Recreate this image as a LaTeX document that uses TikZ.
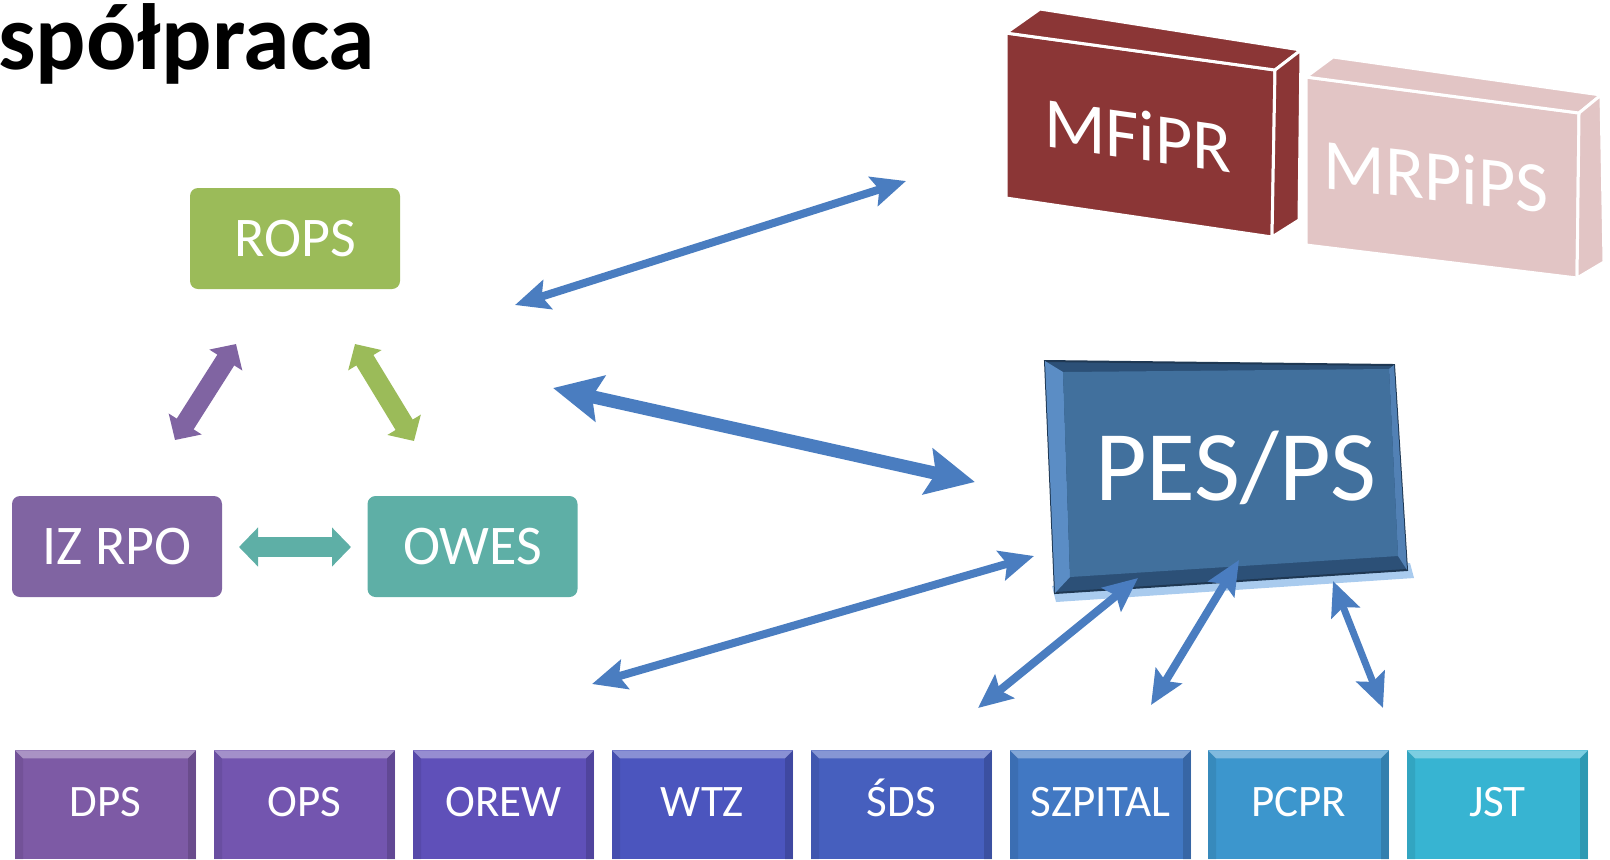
\documentclass[tikz,border=0pt]{standalone}
\usepackage{fontspec}
\setmainfont{Carlito}
\usetikzlibrary{arrows.meta}

\definecolor{ropsgreen}{HTML}{9BBB59}
\definecolor{izpurple}{HTML}{8064A2}
\definecolor{owesteal}{HTML}{5EAFA6}
\definecolor{linkblue}{HTML}{4A7DC0}
\definecolor{mfiprred}{HTML}{8B3636}
\definecolor{mrpipspink}{HTML}{E2C5C5}
\definecolor{pesface}{HTML}{41709D}
\definecolor{pesdark}{HTML}{2C5077}
\definecolor{peslight}{HTML}{5B8DC5}
\definecolor{pesglow}{HTML}{A9CBEE}
\definecolor{cdps}{HTML}{7D5AA5}
\definecolor{cops}{HTML}{7355AF}
\definecolor{corew}{HTML}{5F50B9}
\definecolor{cwtz}{HTML}{4B55BE}
\definecolor{csds}{HTML}{465FBE}
\definecolor{cszp}{HTML}{4178C3}
\definecolor{cpcpr}{HTML}{3C96CD}
\definecolor{cjst}{HTML}{37B4D2}

\begin{document}
\begin{tikzpicture}[x=0.5pt, y=-0.5pt,
    main/.style = {fill=#1, rounded corners=4pt, minimum width=105pt, minimum height=50.5pt, inner sep=0pt, text=white, font=\fontsize{28}{30}\selectfont},
    unit/.style = {fill=#1, minimum width=90.5pt, minimum height=54.5pt, inner sep=0pt, anchor=north, text=white, text height=14pt, text depth=2.5pt, font=\fontsize{22.5}{24}\selectfont,
        path picture={
            \fill[white, opacity=0.35] (path picture bounding box.north west) -- (path picture bounding box.north east) -- ([xshift=-4pt, yshift=-4pt]path picture bounding box.north east) -- ([xshift=4pt, yshift=-4pt]path picture bounding box.north west) -- cycle;
            \fill[black, opacity=0.15] (path picture bounding box.north east) -- ([xshift=-4pt, yshift=-4pt]path picture bounding box.north east) -- ([xshift=-4pt]path picture bounding box.south east) -- (path picture bounding box.south east) -- cycle;
            \fill[black, opacity=0.08] (path picture bounding box.north west) -- ([xshift=4pt, yshift=-4pt]path picture bounding box.north west) -- ([xshift=4pt]path picture bounding box.south west) -- (path picture bounding box.south west) -- cycle;}},
    fat/.style = {draw=#1, line width=10pt, {Triangle[width=19pt, length=9.5pt]}-{Triangle[width=19pt, length=9.5pt]}},
    link/.style = {draw=linkblue, line width=4pt, {Stealth[length=17pt, width=15pt, inset=3pt]}-{Stealth[length=17pt, width=15pt, inset=3pt]}},
    block/.style = {fill=#1, draw=white, line width=1.5pt, line join=round},
    blocktext/.style = {text=white, inner sep=0pt, font=\fontsize{36}{38}\selectfont}]

    \useasboundingbox (0,0) rectangle (1610,859);

    % Title
    \node[anchor=base west, inner sep=0pt, font=\bfseries\fontsize{47}{50}\selectfont] (title) at (-2,69) {spółpraca};

    % Nodes
    \node[main=ropsgreen] (rops) at (295,238.5) {ROPS};
    \node[main=izpurple] (izrpo) at (117,546.5) {IZ RPO};
    \node[main=owesteal] (owes) at (472.5,546.5) {OWES};

    % Ministries
    \filldraw[block=mfiprred] (1006,33) -- (1275,70) -- (1272,237) -- (1006,198) -- cycle;
    \filldraw[block=mfiprred] (1006,33) -- (1040,9) -- (1301,50) -- (1275,70) -- cycle;
    \filldraw[block=mfiprred] (1275,70) -- (1301,50) -- (1299,220) -- (1272,237) -- cycle;
    \node[blocktext, yslant=-0.14] (mfipr) at (1138,135) {MFiPR};

    \filldraw[block=mrpipspink] (1306,77) -- (1579,113) -- (1577,278) -- (1306,245) -- cycle;
    \filldraw[block=mrpipspink] (1306,77) -- (1333,57) -- (1601,95) -- (1579,113) -- cycle;
    \filldraw[block=mrpipspink] (1579,113) -- (1601,95) -- (1604,262) -- (1577,278) -- cycle;
    \node[blocktext, yslant=-0.11] (mrpips) at (1436,176) {MRPiPS};

    % PES/PS
    \fill[pesglow] (1052,586) -- (1410,563) -- (1414,578) -- (1056,602) -- cycle;
    \filldraw[draw=pesdark!70!black, fill=pesdark, line width=1pt] (1045,361) -- (1394,365) -- (1407,570) -- (1055,593) -- cycle;
    \fill[peslight] (1045,361) -- (1063,372) -- (1070,577) -- (1055,593) -- cycle;
    \fill[peslight!80!pesdark] (1394,365) -- (1389,369) -- (1398,556) -- (1407,570) -- cycle;
    \fill[pesface] (1063,372) -- (1389,369) -- (1398,556) -- (1070,577) -- cycle;
    \node[text=white, inner sep=0pt, font=\fontsize{50}{52}\selectfont] (pes) at (1236,468) {PES/PS};

    % Units
    \node[unit=cdps] (dps) at (105.5,750) {DPS};
    \node[unit=cops] (ops) at (304.5,750) {OPS};
    \node[unit=corew] (orew) at (503.5,750) {OREW};
    \node[unit=cwtz] (wtz) at (702.5,750) {WTZ};
    \node[unit=csds] (sds) at (901.5,750) {ŚDS};
    \node[unit=cszp] (szpital) at (1100.5,750) {SZPITAL};
    \node[unit=cpcpr] (pcpr) at (1298.5,750) {PCPR};
    \node[unit=cjst] (jst) at (1497.5,750) {JST};

    % Arrow ends
    \coordinate (r1) at (236,344);
    \coordinate (i1) at (175,440);
    \coordinate (r2) at (355,344);
    \coordinate (o1) at (414,441);
    \coordinate (i2) at (239,547);
    \coordinate (o2) at (351,547);
    \coordinate (m1) at (515,305);
    \coordinate (m2) at (906,181);
    \coordinate (p1) at (553,388);
    \coordinate (p2) at (975,482);
    \coordinate (u1) at (592,684);
    \coordinate (u2) at (1034,556);
    \coordinate (s1) at (978,708);
    \coordinate (s2) at (1138,578);
    \coordinate (z1) at (1151,705);
    \coordinate (z2) at (1239,560);
    \coordinate (c1) at (1383,708);
    \coordinate (c2) at (1333,581);

    % Edges
    \draw[fat=izpurple] (r1) -- (i1);
    \draw[fat=ropsgreen] (r2) -- (o1);
    \draw[fat=owesteal] (i2) -- (o2);
    \draw[link] (m1) -- (m2);
    \draw[link, line width=6.5pt, {Stealth[length=24pt, width=23pt, inset=4pt]}-{Stealth[length=24pt, width=23pt, inset=4pt]}] (p1) -- (p2);
    \draw[link] (u1) -- (u2);
    \draw[link] (s1) -- (s2);
    \draw[link] (z1) -- (z2);
    \draw[link, line width=3.5pt] (c1) -- (c2);

\end{tikzpicture}
\end{document}
